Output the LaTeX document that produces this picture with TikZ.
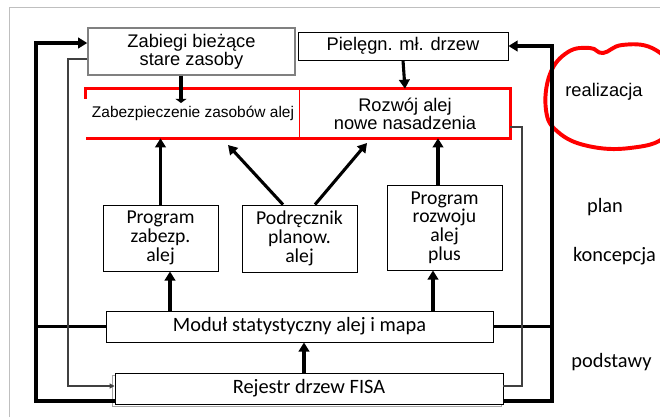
\documentclass[tikz,border=0pt]{standalone}
\usepackage{fontspec}
\setmainfont{Liberation Sans}
\newfontfamily\calibri{Carlito}
\usetikzlibrary{arrows.meta,positioning,shadows}

\begin{document}
\begin{tikzpicture}[
    x=0.025cm, y=-0.025cm,
    font=\fontsize{13}{13}\selectfont,
    field/.style={draw, line width=0.6pt, inner sep=0pt, align=center, fill=white},
    lower/.style={field, font=\calibri\fontsize{14}{13.3}\selectfont},
    sidetext/.style={font=\calibri\fontsize{14.5}{14.5}\selectfont},
    arrow/.style={-{Triangle[length=6.5pt,width=7.5pt]}, line width=2.2pt},
    heavy/.style={line width=2.2pt},
    thinline/.style={line width=1pt, black!75},
    redline/.style={red, line width=2.4pt},
    frame/.style={gray!50, line width=0.7pt}
]
\useasboundingbox (0,0) rectangle (660,417);
\clip (0,0) rectangle (660,417);
\draw[frame] (9,417) -- (9,7) -- (660,7);

% top row
\node[field, draw=gray, line width=1pt, minimum width=5.175cm, minimum height=1.175cm] (zab) at (191.5,51.5) {Zabiegi bieżące\\stare zasoby};
\node[field, minimum width=5.25cm, minimum height=0.7cm] (piel) at (403,46) {Pielęgn. mł. drzew};

% realizacja
\node[minimum width=5.35cm, minimum height=1.225cm, inner sep=0pt, font=\fontsize{11}{11}\selectfont] (zabez) at (193,113.5) {Zabezpieczenie zasobów alej};
\node[minimum width=5.25cm, minimum height=1.225cm, inner sep=0pt, align=center] (rozw) at (405,113.5) {Rozwój alej\\nowe nasadzenia};
\draw[redline] ([yshift=-7pt]zabez.north west) -- (zabez.north west) -- (rozw.north east) -- (rozw.south east) -- (zabez.south west);
\draw[red, line width=0.8pt] (rozw.north west) -- (rozw.south west);

% plan
\node[lower, minimum width=2.875cm, minimum height=1.65cm] (prog1) at (160.5,238) {Program\\zabezp.\\alej};
\node[lower, minimum width=2.875cm, minimum height=1.675cm] (podr) at (299.5,238.5) {Podręcznik\\planow.\\alej};
\node[lower, minimum width=2.875cm, minimum height=2.125cm] (prog2) at (444.5,227.5) {Program\\rozwoju\\alej\\plus};

% podstawy
\node[lower, font=\calibri\fontsize{14.5}{14.5}\selectfont, minimum width=9.675cm, minimum height=0.775cm] (modul) at (299.5,326.5) {Moduł statystyczny alej i mapa};
\node[lower, font=\calibri\fontsize{14.5}{14.5}\selectfont, minimum width=9.7cm, minimum height=0.775cm,
  general shadow={shadow xshift=-1.5pt, shadow yshift=-1.5pt, draw=gray!70, fill=white}] (rej) at (309,388.5) {Rejestr drzew FISA};

% side labels
\node (real) at (604,92) {realizacja};
\draw[red, line width=2.8pt] plot[smooth cycle, tension=0.7] coordinates {(546,110) (550,74) (568,52) (590,48) (603,53) (622,45) (652,48) (674,70) (680,102) (666,136) (630,148) (588,146) (558,132)};
\node[sidetext] (plan) at (605,207) {plan};
\node[sidetext] (konc) at (614.5,256) {koncepcja};
\node[sidetext] (podst) at (611.5,362) {podstawy};

% helper coordinates
\coordinate (zt) at (181,103);
\coordinate (d1) at (228,145);
\coordinate (d2) at (367,143);
\coordinate (c1) at (170,0);
\coordinate (c2) at (433,0);
\coordinate (c3) at (304,0);
\coordinate (c4) at (438,0);

% vertical arrows
\draw[heavy, -{Triangle[length=3pt,width=8pt]}] (zab.south -| zt) -- (zt);
\draw[arrow] (piel.south) -- (rozw.north);
\draw[arrow] (prog1.north) -- (prog1.north |- zabez.south);
\draw[arrow] (podr.north -| 283,0) -- (d1);
\draw[arrow] (podr.north -| 315,0) -- (d2);
\draw[arrow] (prog2.north -| c4) -- (rozw.south -| c4);
\draw[arrow] (modul.north -| c1) -- (prog1.south -| c1);
\draw[arrow] (modul.north -| c2) -- (prog2.south -| c2);
\draw[arrow] (rej.north -| c3) -- (modul.south -| c3);

% left loops
\draw[arrow] (rej.west |- 0,401) -| (36,43) -- (zab.west |- 0,43);
\draw[heavy] (modul.west) -- (modul.west -| 36,0);
\draw[thinline, -{Triangle[length=3.5pt,width=3.5pt]}] (zab.west |- 0,59) -| (68,386) -- (rej.west |- 0,386);

% right loops
\draw[arrow] (rej.east |- 0,401) -| (552,46) -- (piel.east);
\draw[heavy] (modul.east) -- (modul.east -| 552,0);
\draw[thinline] (rozw.east |- 0,127) -| (522,386) -- (rej.east |- 0,386);

\end{tikzpicture}
\end{document}
